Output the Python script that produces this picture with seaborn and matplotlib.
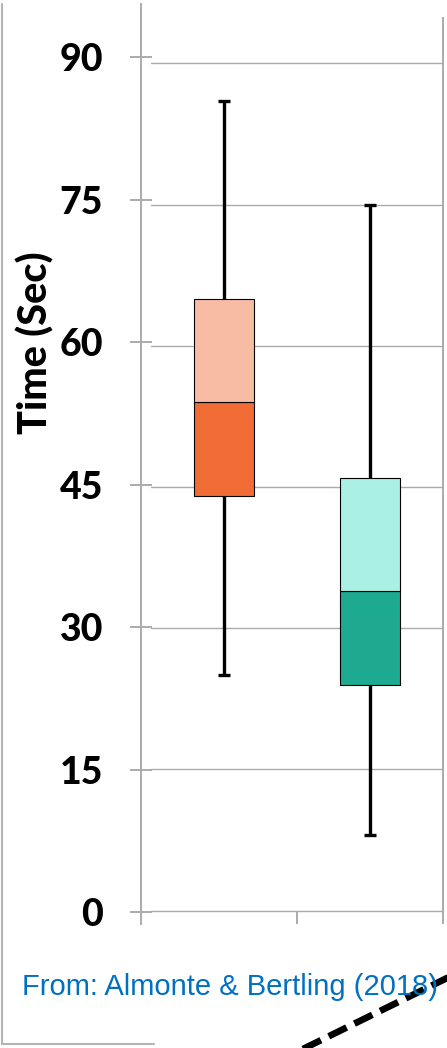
import matplotlib
matplotlib.use("Agg")
import matplotlib.pyplot as plt
from matplotlib.lines import Line2D
import numpy as np
import pandas as pd
import seaborn as sns

# Summary statistics for the two conditions (seconds)
groups = ["A", "B"]
whisker_low = [25, 8]
q1 = [44, 24]
median = [54, 34]
q3 = [65, 46]
whisker_high = [86, 75]

lower_colors = ["#F06C34", "#1EAA90"]
upper_colors = ["#F8BBA4", "#ABF0E4"]

y_ticks = [0, 15, 30, 45, 60, 75, 90]
y_label = "Time (Sec)"
source_note = "From: Almonte & Bertling (2018)"

sns.set_theme(style="white")
plt.rcParams["font.family"] = ["Lato", "DejaVu Sans"]

W, H = 447, 1048
fig = plt.figure(figsize=(W / 100, H / 100), dpi=100)
fig.patch.set_facecolor("white")


def fx(px):
    return px / W


def fy(py):
    return 1 - py / H


grid_gray = "#ABABAB"
label_weight = 900

# Plot area holding the boxes and gridlines
ax = fig.add_axes([fx(151), fy(910.5), fx(443.3) - fx(151), fy(18.3) - fy(910.5)])
ax.set_facecolor("none")

df = pd.DataFrame({
    "group": groups,
    "q1": q1,
    "median": median,
    "q3": q3,
    "lower_span": np.array(median) - np.array(q1),
    "upper_span": np.array(q3) - np.array(median),
})

box_width = 0.41
sns.barplot(data=df, x="group", y="lower_span", bottom=df["q1"].to_numpy(),
            color="white", width=box_width, edgecolor="black", linewidth=0.8,
            errorbar=None, ax=ax, zorder=3)
sns.barplot(data=df, x="group", y="upper_span", bottom=df["median"].to_numpy(),
            color="white", width=box_width, edgecolor="black", linewidth=0.8,
            errorbar=None, ax=ax, zorder=3)
for patch, c in zip(ax.patches, lower_colors + upper_colors):
    patch.set_facecolor(c)
    patch.set_alpha(1)

pos = np.arange(len(groups))
ax.vlines(pos, q3, whisker_high, color="black", lw=2.4, zorder=2)
ax.vlines(pos, whisker_low, q1, color="black", lw=2.4, zorder=2)
cap = 0.042
ax.hlines(whisker_high, pos - cap, pos + cap, color="black", lw=2.4, zorder=2)
ax.hlines(whisker_low, pos - cap, pos + cap, color="black", lw=2.4, zorder=2)

ax.set_xlim(-0.5, len(groups) - 0.5)
ax.set_ylim(0, 94.8)
for t in y_ticks[1:]:
    ax.axhline(t, color=grid_gray, lw=1.0, zorder=1)
ax.set_yticks([])
ax.set_xticks([0.5, 1.5])
ax.set_xticklabels(["", ""])
ax.tick_params(axis="x", bottom=True, direction="out", length=9.4, width=1.4,
               color=grid_gray)
ax.set_xlabel("")
ax.set_ylabel("")
for side in ["left", "top"]:
    ax.spines[side].set_visible(False)
for side in ["right", "bottom"]:
    ax.spines[side].set_visible(True)
    ax.spines[side].set_color(grid_gray)
ax.spines["right"].set_linewidth(1.4)
ax.spines["bottom"].set_linewidth(1.0)

# Value axis with its tick labels
vax = fig.add_axes([fx(141), fy(924), 0.002, fy(4) - fy(924)])
vax.set_facecolor("none")
vax.set_ylim(-1.264, 95.61)
vax.tick_params(axis="y", left=True, direction="inout", length=16.5, width=1.4,
                color=grid_gray, pad=19, labelsize=27, labelcolor="black")
vax.set_yticks(y_ticks)
vax.set_yticklabels([str(t) for t in y_ticks], fontweight=label_weight)
vax.set_xticks([])
for side in ["right", "top", "bottom"]:
    vax.spines[side].set_visible(False)
vax.spines["left"].set_visible(True)
vax.spines["left"].set_color(grid_gray)
vax.spines["left"].set_linewidth(1.4)

fig.text(fx(35), fy(343), y_label, rotation=90, ha="center", va="center",
         fontsize=28.5, fontweight=label_weight, color="black")

fig.text(fx(22), fy(987), source_note, ha="left", va="center", fontsize=21,
         fontweight="normal", color="#0070C0",
         family=["Liberation Sans", "DejaVu Sans"])

# Outer frame pieces
fig.add_artist(Line2D([fx(2), fx(2)], [fy(4), fy(1044)], color="#B4B4B4",
                      lw=1.5, transform=fig.transFigure))
fig.add_artist(Line2D([fx(2), fx(154)], [fy(1044), fy(1044)], color="#B4B4B4",
                      lw=1.5, transform=fig.transFigure))

# Heavy dashed pointer line
fig.add_artist(Line2D([fx(303), fx(460)], [fy(1049), fy(971.6)], color="black",
                      lw=4.8, linestyle=(0, (3.0, 1.3)), solid_capstyle="butt",
                      dash_capstyle="butt", transform=fig.transFigure))

fig.savefig("out.png", dpi=100)
